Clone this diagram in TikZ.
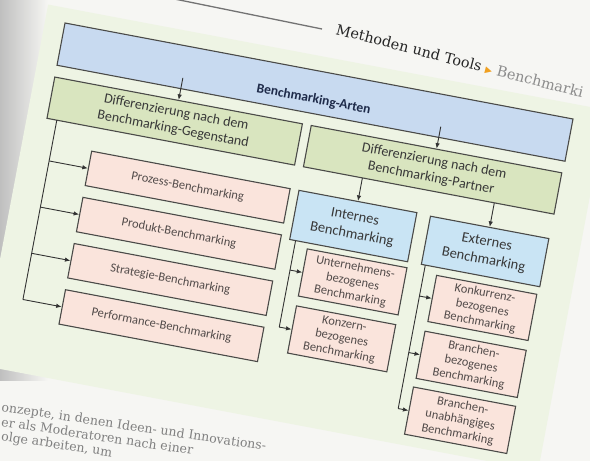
\documentclass[tikz,border=0pt]{standalone}
\usepackage{fontspec}
\setmainfont{Carlito}
\newfontfamily\pagefont{DejaVu Serif}
\newfontfamily\symfont{DejaVu Sans}
\usetikzlibrary{arrows.meta}
\definecolor{pagebg}{HTML}{F6F6F3}
\definecolor{panelbg}{HTML}{EEF4E4}
\definecolor{artenfill}{HTML}{C8DAF0}
\definecolor{greenfill}{HTML}{D9E5BF}
\definecolor{pinkfill}{HTML}{FAE4DC}
\definecolor{cyanfill}{HTML}{C9E4F4}
\definecolor{edgecol}{HTML}{4A4A48}
\definecolor{txtcol}{HTML}{383838}
\definecolor{pinktxt}{HTML}{524B4A}
\definecolor{titlecol}{HTML}{1F2B4A}
\definecolor{hdrorange}{HTML}{F0A020}
\tikzset{
  boxbase/.style={draw=edgecol, line width=1.1pt, inner sep=0pt, align=center},
  artenbox/.style={boxbase, fill=artenfill},
  titlelbl/.style={inner sep=0pt, text=titlecol, font=\bfseries\fontsize{13.5}{16}\selectfont},
  greenbox/.style={boxbase, fill=greenfill, text=txtcol, font=\fontsize{14}{17}\selectfont},
  pinkbox/.style={boxbase, fill=pinkfill, text=pinktxt, font=\fontsize{12.5}{14.5}\selectfont},
  cyanbox/.style={boxbase, fill=cyanfill, text=txtcol, font=\fontsize{14.5}{18}\selectfont},
  smallbox/.style={boxbase, fill=pinkfill, text=pinktxt, font=\fontsize{12.5}{14.6}\selectfont},
  trunk/.style={draw=black!80, line width=0.9pt},
  arr/.style={trunk, -{Latex[length=5.5pt,width=4.5pt]}},
  pagetxt/.style={inner sep=0pt, anchor=base west, text=black!50, font=\pagefont\fontsize{12.5}{15}\selectfont}
}
\begin{document}
\begin{tikzpicture}[x=1pt,y=-1pt]
\useasboundingbox (0,0) rectangle (590,461);
\clip (0,0) rectangle (590,461);
% page
\fill[pagebg] (0,0) rectangle (590,461);
\shade[left color=black!25, right color=pagebg] (0,0) rectangle (48,380);
% header rule and running head
\draw[black!55, line width=1.3pt] (150,-6) -- (322,29);
\begin{scope}[shift={(335,34)}, rotate=-14.5, transform shape]
  \node[inner sep=0pt, anchor=base west, text=black!85, font=\pagefont\fontsize{14.5}{17}\selectfont] (hdr) at (0,0)
    {Methoden und Tools {\symfont\fontsize{9}{10}\selectfont\textcolor{hdrorange}{▶}} \textcolor{black!45}{Benchmarki}};
\end{scope}
% body text below the figure
\begin{scope}[shift={(1,411)}, rotate=-8.5, transform shape]
  \node[pagetxt] (l1) at (0,0) {onzepte, in denen Ideen- und Innovations-};
  \node[pagetxt] (l2) at (2,15) {er als Moderatoren nach einer};
  \node[pagetxt] (l3) at (4,29) {olge arbeiten, um};
\end{scope}
% figure
\begin{scope}[shift={(65,23)}, rotate=-10.7, transform shape]
  \fill[panelbg] (-20,-15) rectangle (548,352);
  \node[artenbox, minimum width=517pt, minimum height=43pt] (arten) at (258.5,21.5) {};
  \node[titlelbl] (artenlbl) at (258.5,29) {Benchmarking-Arten};
  \node[greenbox, minimum width=252pt, minimum height=42pt] (gegen) at (126,76)
    {Differenzierung nach dem\\Benchmarking-Gegenstand};
  \node[greenbox, minimum width=255pt, minimum height=42pt] (partner) at (388.5,76)
    {Differenzierung nach dem\\Benchmarking-Partner};
  \node[pinkbox, minimum width=202pt, minimum height=35pt] (prozess) at (151,138.5) {Prozess-Benchmarking};
  \node[pinkbox, minimum width=202pt, minimum height=35pt] (produkt) at (151,185.5) {Produkt-Benchmarking};
  \node[pinkbox, minimum width=202pt, minimum height=35pt] (strategie) at (151,232.5) {Strategie-Benchmarking};
  \node[pinkbox, minimum width=202pt, minimum height=35pt] (performance) at (151,279.5) {Performance-Benchmarking};
  \node[cyanbox, minimum width=120pt, minimum height=50pt] (intern) at (321,146) {Internes\\Benchmarking};
  \node[cyanbox, minimum width=120.5pt, minimum height=49pt] (extern) at (455.25,146.5) {Externes\\Benchmarking};
  \node[smallbox, minimum width=101.5pt, minimum height=48pt] (unternehmen) at (330.75,201) {Unternehmens-\\bezogenes\\Benchmarking};
  \node[smallbox, minimum width=101pt, minimum height=48pt] (konzern) at (330.5,259) {Konzern-\\bezogenes\\Benchmarking};
  \node[smallbox, minimum width=102pt, minimum height=47pt] (konkurrenz) at (463,202.5) {Konkurrenz-\\bezogenes\\Benchmarking};
  \node[smallbox, minimum width=103pt, minimum height=48pt] (branchen) at (462.5,260) {Branchen-\\bezogenes\\Benchmarking};
  \node[smallbox, minimum width=104pt, minimum height=48pt] (unabh) at (462,317) {Branchen-\\unabhängiges\\Benchmarking};
  % connector points
  \coordinate (s1) at (126,32);
  \coordinate (s2) at (388.5,32);
  \coordinate (gt) at (10,97);
  \coordinate (g1) at (10,138.5);
  \coordinate (g2) at (10,185.5);
  \coordinate (g3) at (10,232.5);
  \coordinate (g4) at (10,279.5);
  \coordinate (p1) at (321,97);
  \coordinate (p2) at (455.25,97);
  \coordinate (it) at (267,171);
  \coordinate (i1) at (267,201);
  \coordinate (i2) at (267,259);
  \coordinate (et) at (399,171);
  \coordinate (e1) at (399,202.5);
  \coordinate (e2) at (399,260);
  \coordinate (e3) at (399,317);
  % connectors
  \draw[arr] (s1) -- (gegen.north);
  \draw[arr] (s2) -- (partner.north);
  \draw[trunk] (gt) -- (g4);
  \draw[arr] (g1) -- (prozess.west);
  \draw[arr] (g2) -- (produkt.west);
  \draw[arr] (g3) -- (strategie.west);
  \draw[arr] (g4) -- (performance.west);
  \draw[arr] (p1) -- (intern.north);
  \draw[arr] (p2) -- (extern.north);
  \draw[trunk] (it) -- (i2);
  \draw[arr] (i1) -- (unternehmen.west);
  \draw[arr] (i2) -- (konzern.west);
  \draw[trunk] (et) -- (e3);
  \draw[arr] (e1) -- (konkurrenz.west);
  \draw[arr] (e2) -- (branchen.west);
  \draw[arr] (e3) -- (unabh.west);
\end{scope}
\end{tikzpicture}
\end{document}
